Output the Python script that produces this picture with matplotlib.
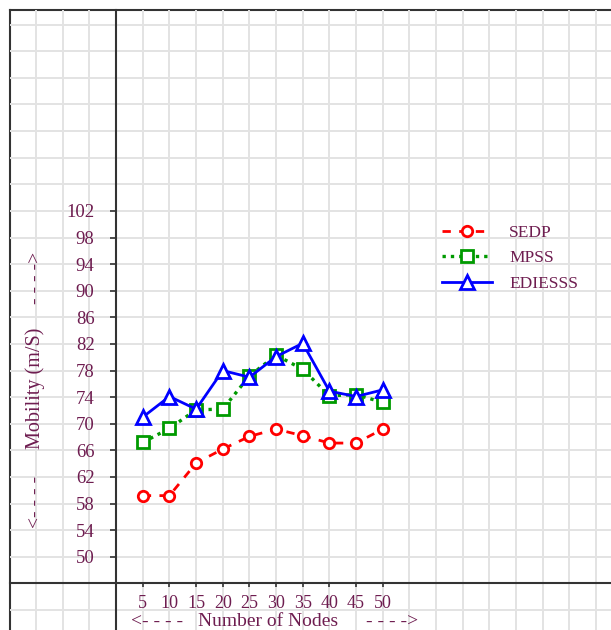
import numpy as np
import matplotlib
matplotlib.use('Agg')
import matplotlib.pyplot as plt
from matplotlib.ticker import MultipleLocator

plt.rcParams['font.family'] = ['Liberation Serif', 'DejaVu Serif']

# data
nodes = [5, 10, 15, 20, 25, 30, 35, 40, 45, 50]
sedp = [59.2, 59.2, 64.1, 66.2, 68.1, 69.2, 68.2, 67.1, 67.1, 69.2]
mpss = [67.2, 69.3, 72.1, 72.2, 77.2, 80.3, 78.2, 74.2, 74.4, 73.2]
ediesss = [71, 74.1, 72.2, 78, 77, 80.1, 82.1, 74.9, 74.1, 75.1]
yticks = [50, 54, 58, 62, 66, 70, 74, 78, 82, 86, 90, 94, 98, 102]

txt = '#6e1d50'
W, H = 611, 630

fig = plt.figure(figsize=(W / 100, H / 100), dpi=100)
rect = [10 / W, 0, (W - 10) / W, (H - 10) / H]

# outer frame (top and left border)
frame = fig.add_axes(rect)
frame.set_xticks([])
frame.set_yticks([])
for s in ['right', 'bottom']:
    frame.spines[s].set_visible(False)
for s in ['top', 'left']:
    frame.spines[s].set_linewidth(1.5)
    frame.spines[s].set_color('#333333')

ax = fig.add_axes(rect, facecolor='none')
ax.set_xlim(-19.9, 92.8)
ax.set_ylim(39.0, 132.2)

ax.xaxis.set_minor_locator(MultipleLocator(5))
ax.yaxis.set_minor_locator(MultipleLocator(4, offset=2))
ax.set_xticks(nodes)
ax.set_yticks(yticks)
ax.grid(which='both', color='#e3e3e3', lw=1.4)
ax.set_axisbelow(True)

ax.spines['left'].set_position(('data', 0))
ax.spines['bottom'].set_position(('data', 46))
for s in ['top', 'right']:
    ax.spines[s].set_visible(False)
for s in ['left', 'bottom']:
    ax.spines[s].set_linewidth(1.5)
    ax.spines[s].set_color('#333333')

ax.tick_params(which='minor', length=0)
ax.tick_params(axis='x', which='major', direction='out', length=3, width=1.2,
               color='#333333', labelsize=13, labelcolor=txt, pad=5)
ax.tick_params(axis='y', which='major', direction='out', length=4.5, width=1.2,
               color='#333333', labelsize=13.5, labelcolor=txt, pad=11)

ax.plot(nodes, sedp, color='#ff0000', ls=(0, (3, 3)), lw=2, marker='o', ms=7.5,
        mfc='white', mec='#ff0000', mew=2, label='SEDP')
ax.plot(nodes, mpss, color='#009a00', ls=(0, (1, 1.5)), lw=2.4, marker='s', ms=8,
        mfc='white', mec='#009a00', mew=2, label='MPSS')
ax.plot(nodes, ediesss, color='#0000ff', ls='-', lw=2, marker='^', ms=9.5,
        mfc='white', mec='#0000ff', mew=2, label='EDIESSS')

leg = fig.legend(loc='upper left', bbox_to_anchor=(426 / W, 1 - 209 / H),
                 frameon=False, fontsize=12.5, handlelength=2.9,
                 handletextpad=1.0, labelspacing=0.55)
for t in leg.get_texts():
    t.set_color(txt)

# axis labels with dashed arrows
fig.text(35 / W, 1 - 388 / H, 'Mobility (m/S)', rotation=90, ha='center',
         va='center', fontsize=14.5, color=txt)
fig.text(36 / W, 1 - 278 / H, '- - - ->', rotation=90, ha='center',
         va='center', fontsize=14, color=txt)
fig.text(36 / W, 1 - 502 / H, '<- - - -', rotation=90, ha='center',
         va='center', fontsize=14, color=txt)
fig.text(268 / W, 1 - 622 / H, 'Number of Nodes', ha='center', va='center',
         fontsize=14, color=txt)
fig.text(157 / W, 1 - 622 / H, '<- - - -', ha='center', va='center',
         fontsize=14, color=txt)
fig.text(392 / W, 1 - 622 / H, '- - - ->', ha='center', va='center',
         fontsize=14, color=txt)

fig.savefig('out.png', dpi=100)
